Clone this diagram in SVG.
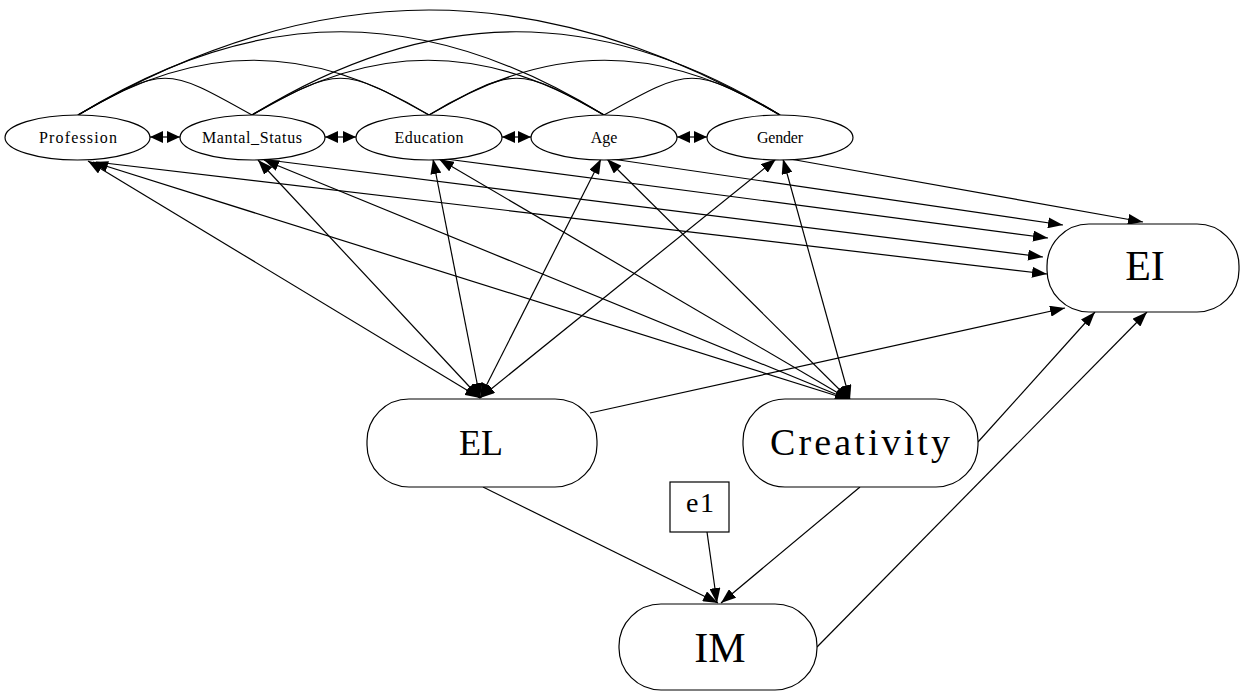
<svg xmlns="http://www.w3.org/2000/svg" width="1241" height="691" viewBox="0 0 1241 691">
<style>
.n{fill:#fff;stroke:#000;stroke-width:1.2}
.t{font-family:"Liberation Serif","Noto Sans CJK SC",serif;fill:#000;text-anchor:middle}
.s{font-size:16px}
.b{font-size:38px}
.c{fill:none;stroke:#000;stroke-width:1.2}
.a{marker-end:url(#ah)}
.d{marker-start:url(#ah);marker-end:url(#ah)}
.e{marker-start:url(#sh);marker-end:url(#sh)}
</style>
<defs>
<marker id="ah" viewBox="0 0 15 11" refX="15" refY="5.5" markerWidth="15" markerHeight="11" markerUnits="userSpaceOnUse" orient="auto-start-reverse">
<path d="M0,0 L15,5.5 L0,11 z" fill="#000"/>
</marker>
<marker id="sh" viewBox="0 0 13 12" refX="13" refY="6" markerWidth="13" markerHeight="12" markerUnits="userSpaceOnUse" orient="auto-start-reverse">
<path d="M0,0 L13,6 L0,12 z" fill="#000"/>
</marker>
</defs>
<g id="connectors">
<path class="c" d="M78,115 C165,66 165,66 252,115"/>
<path class="c" d="M252,115 C340,66 341,66 429,115"/>
<path class="c" d="M429,115 C516,66 517,66 604,115"/>
<path class="c" d="M604,115 C692,66 692,66 780,115"/>
<path class="c" d="M78,115 C198,42 309,42 429,115"/>
<path class="c" d="M252,115 C372,42 484,42 604,115"/>
<path class="c" d="M429,115 C549,42 660,42 780,115"/>
<path class="c" d="M78,115 C258,4 424,4 604,115"/>
<path class="c" d="M252,115 C432,4 600,4 780,115"/>
<path class="c" d="M78,115 C318,-25 540,-25 780,115"/>
<path class="c e" d="M150,137 L180,137"/>
<path class="c e" d="M325,137 L356,137"/>
<path class="c e" d="M502,137 L531,137"/>
<path class="c e" d="M677,137 L707,137"/>
<path class="c d" d="M88,161 L480,398"/>
<path class="c d" d="M258,160 L480,398"/>
<path class="c d" d="M433,159 L480,398"/>
<path class="c d" d="M601,159 L480,398"/>
<path class="c d" d="M776,159 L480,398"/>
<path class="c d" d="M93,162 L850,400"/>
<path class="c d" d="M264,160 L850,400"/>
<path class="c d" d="M439,159 L850,400"/>
<path class="c d" d="M607,159 L850,400"/>
<path class="c d" d="M783,159 L850,400"/>
<path class="c a" d="M790,159 L1143,222"/>
<path class="c a" d="M612,159 L1063,225"/>
<path class="c a" d="M446,159 L1048,238"/>
<path class="c a" d="M268,160 L1043,257"/>
<path class="c a" d="M96,162 L1047,274"/>
<path class="c a" d="M590,413 L1065,308"/>
<path class="c a" d="M978,442 L1095,312"/>
<path class="c a" d="M817,647 L1147,312"/>
<path class="c a" d="M483,487 L718,603"/>
<path class="c a" d="M860,487 L721,603"/>
<path class="c a" d="M707,532 L717,603"/>
</g>
<g id="Profession"><ellipse class="n" cx="77.5" cy="137.5" rx="72.5" ry="22.5"/><text class="t s" x="78" y="143" textLength="78" lengthAdjust="spacing">Profession</text></g>
<g id="Mantal_Status"><ellipse class="n" cx="252.5" cy="137.5" rx="72.5" ry="22.5"/><text class="t s" x="252" y="143" textLength="100" lengthAdjust="spacing">Mantal_Status</text></g>
<g id="Education"><ellipse class="n" cx="429" cy="137.5" rx="73" ry="22.5"/><text class="t s" x="429" y="143" textLength="69" lengthAdjust="spacing">Education</text></g>
<g id="Age"><ellipse class="n" cx="604" cy="137.5" rx="73" ry="22.5"/><text class="t s" x="604" y="143">Age</text></g>
<g id="Gender"><ellipse class="n" cx="780" cy="137.5" rx="73" ry="22.5"/><text class="t s" x="780" y="143" textLength="46" lengthAdjust="spacing">Gender</text></g>
<g id="EI"><rect class="n" x="1047" y="224" width="192" height="88" rx="42"/><text class="t" x="1145" y="280" font-size="42">EI</text></g>
<g id="EL"><rect class="n" x="367" y="399" width="230" height="88" rx="42"/><text class="t" x="481" y="455" font-size="36">EL</text></g>
<g id="Creativity"><rect class="n" x="743" y="399" width="235" height="88" rx="42"/><text class="t b" x="860" y="455" textLength="180" lengthAdjust="spacing">Creativity</text></g>
<g id="IM"><rect class="n" x="619" y="604" width="198" height="86" rx="42"/><text class="t" x="720" y="662" font-size="42">IM</text></g>
<g id="e1"><rect class="n" x="670" y="482" width="59" height="50"/><text class="t" x="700" y="512" font-size="28" textLength="28" lengthAdjust="spacing">e1</text></g>
</svg>
